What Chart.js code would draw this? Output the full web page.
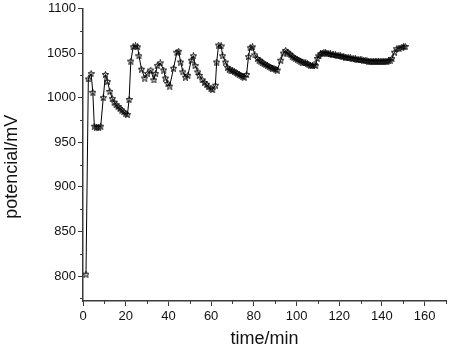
<!DOCTYPE html>
<html>
<head>
<meta charset="utf-8">
<script src="https://cdn.jsdelivr.net/npm/chart.js@4/dist/chart.umd.min.js"></script>
<style>
  html, body { margin: 0; padding: 0; background: #fff; }
  #wrap { width: 450px; height: 350px; position: relative; }
</style>
</head>
<body>
<div id="wrap"><canvas id="c"></canvas></div>
<script>
// ---- data ----
const times = [
  1.4, 2.5, 3.8, 4.6, 5.3, 6.3, 7.3, 8.3, 9.5, 10.5, 11.5, 12.6, 13.7, 14.6, 15.5, 16.4, 17.3, 18.2, 19.1, 20.0,
  20.8, 21.6, 22.4, 23.5, 24.6, 25.6, 26.2, 27.4, 28.9, 30.2, 31.7, 33.2, 34.0, 34.8, 36.2, 37.8, 38.6, 39.8, 40.6, 42.4,
  44.0, 44.8, 45.7, 46.8, 48.0, 49.1, 50.7, 51.7, 52.5, 53.8, 54.5, 55.8, 56.9, 57.9, 58.8, 59.9, 60.7, 62.0, 62.6, 63.5,
  64.7, 65.4, 66.7, 67.7, 68.5, 69.3, 70.1, 70.9, 71.7, 72.4, 73.2, 74.0, 74.8, 75.5, 76.6, 77.5, 78.3, 79.4, 80.5, 81.7,
  82.5, 83.3, 84.0, 84.8, 85.6, 86.4, 87.2, 88.0, 88.7, 89.5, 90.3, 91.0, 92.6, 93.8, 94.9, 95.7, 96.5, 97.3, 98.0, 98.8,
  99.6, 100.4, 101.2, 102.0, 102.7, 103.5, 104.3, 105.1, 105.8, 106.6, 107.4, 108.2, 109.0, 109.7, 110.5, 111.2, 112.0, 112.8, 113.6, 114.3,
  115.1, 115.9, 116.7, 117.4, 118.2, 119.0, 119.8, 120.5, 121.3, 122.1, 122.9, 123.6, 124.4, 125.2, 126.0, 126.8, 127.6, 128.3, 129.1, 129.9,
  130.6, 131.4, 132.2, 133.0, 133.8, 134.5, 135.3, 136.1, 136.9, 137.6, 138.4, 139.2, 140.0, 140.8, 141.5, 142.3, 143.1, 143.9, 144.7, 145.9,
  147.0, 148.0, 149.3, 150.1, 150.9
];
const potentials = [
  802, 1021, 1027, 1006, 968, 967, 967, 968, 1000, 1026, 1018, 1007, 999, 995, 992, 990, 988, 986, 984, 982,
  981, 998, 1041, 1057, 1058, 1057, 1047, 1032, 1022, 1027, 1031, 1020, 1027, 1036, 1039, 1031, 1022, 1016, 1013, 1033,
  1051, 1052, 1040, 1029, 1023, 1025, 1042, 1047, 1036, 1029, 1025, 1020, 1017, 1015, 1012, 1010, 1009, 1014, 1040, 1059,
  1058, 1047, 1040, 1034, 1032, 1031, 1030, 1029, 1028, 1027, 1026, 1025, 1024, 1023, 1026, 1046, 1056, 1057, 1048, 1044,
  1042, 1041, 1039, 1038, 1037, 1036, 1035, 1034, 1033, 1033, 1032, 1031, 1042, 1050, 1053, 1051, 1049, 1048, 1046, 1045,
  1044, 1043, 1042, 1041, 1040, 1039, 1039, 1038, 1037, 1036, 1036, 1037, 1036, 1044, 1047, 1049, 1050, 1051, 1050.5, 1050,
  1049, 1049, 1048.5, 1048, 1048, 1047.5, 1047, 1047, 1046.5, 1046, 1045.5, 1045, 1045, 1044.5, 1044, 1044, 1043.5, 1043, 1043, 1042.5,
  1042.5, 1042, 1042, 1041.5, 1041, 1041, 1041, 1041, 1041, 1041, 1041, 1041, 1041, 1041, 1041, 1041, 1041.5, 1042, 1044, 1051,
  1055, 1055.5, 1056.7, 1057, 1057.4
];
const xMajorTicks = [0, 20, 40, 60, 80, 100, 120, 140, 160];
const xMinorTicks = [10, 30, 50, 70, 90, 110, 130, 150, 170];
const yMajorTicks = [800, 850, 900, 950, 1000, 1050, 1100];
const yMinorTicks = [775, 825, 875, 925, 975, 1025, 1075];
const xTitle = 'time/min';
const yTitle = 'potencial/mV';

// small open five-pointed star marker
function starMarker() {
  const c = document.createElement('canvas');
  c.width = 7; c.height = 7;
  const g = c.getContext('2d');
  g.beginPath();
  for (let i = 0; i < 10; i++) {
    const r = i % 2 ? 1.4 : 3.3;
    const a = -Math.PI / 2 + i * Math.PI / 5;
    const x = 3.5 + r * Math.cos(a), y = 3.8 + r * Math.sin(a);
    if (i) g.lineTo(x, y); else g.moveTo(x, y);
  }
  g.closePath();
  g.strokeStyle = '#000';
  g.lineWidth = 1;
  g.stroke();
  return c;
}

const axisColor = '#3a3a3a';
const fontFamily = '"Liberation Sans", Arial, sans-serif';
const tickFont = { family: fontFamily, size: 13, lineHeight: 1 };
const titleFont = { family: fontFamily, size: 18, lineHeight: 1.2 };

const minorTicks = {
  id: 'minorTicks',
  afterDraw(chart) {
    const ctx = chart.ctx, xs = chart.scales.x, ys = chart.scales.y;
    ctx.save();
    ctx.strokeStyle = axisColor;
    ctx.lineWidth = 1;
    ctx.beginPath();
    xMinorTicks.forEach(v => {
      const p = Math.round(xs.getPixelForValue(v)) + 0.5;
      ctx.moveTo(p, xs.top); ctx.lineTo(p, xs.top + 3);
    });
    yMinorTicks.forEach(v => {
      const p = Math.round(ys.getPixelForValue(v)) + 0.5;
      ctx.moveTo(ys.right - 3, p); ctx.lineTo(ys.right, p);
    });
    ctx.stroke();
    // y-axis title, placed slightly below the axis centre as in the reference
    const cy = (ys.top + ys.bottom) / 2 + 12;
    ctx.translate(12, cy);
    ctx.rotate(-Math.PI / 2);
    ctx.fillStyle = '#111';
    ctx.font = '18px ' + fontFamily;
    ctx.textAlign = 'center';
    ctx.textBaseline = 'middle';
    ctx.fillText(yTitle, 0, 0);
    ctx.restore();
  }
};

new Chart(document.getElementById('c'), {
  type: 'scatter',
  data: {
    datasets: [{
      data: times.map((t, i) => ({ x: t, y: potentials[i] })),
      showLine: true,
      borderColor: '#000',
      borderWidth: 1,
      tension: 0,
      pointStyle: starMarker(),
      pointRadius: 3,
      pointHoverRadius: 3
    }]
  },
  options: {
    responsive: true,
    maintainAspectRatio: false,
    animation: false,
    events: [],
    layout: { padding: { top: 6, right: 1, left: 0, bottom: 0 } },
    plugins: { legend: { display: false }, tooltip: { enabled: false } },
    scales: {
      x: {
        type: 'linear',
        min: 0, max: 170,
        afterBuildTicks: s => { s.ticks = xMajorTicks.map(v => ({ value: v })); },
        afterFit: s => { s.height = 49; },
        border: { display: true, color: axisColor, width: 1.5 },
        grid: { drawOnChartArea: false, drawTicks: true, tickLength: 5, color: axisColor, lineWidth: 1 },
        ticks: { color: '#111', font: tickFont, padding: 4, maxRotation: 0, callback: v => String(v) },
        title: { display: true, text: xTitle, color: '#111', font: titleFont, padding: { top: 0, bottom: 0 } }
      },
      y: {
        type: 'linear',
        min: 772, max: 1100,
        afterBuildTicks: s => { s.ticks = yMajorTicks.map(v => ({ value: v })); },
        afterFit: s => { s.width = 83; },
        border: { display: true, color: axisColor, width: 1.5 },
        grid: { drawOnChartArea: false, drawTicks: true, tickLength: 5, color: axisColor, lineWidth: 1 },
        ticks: { color: '#111', font: tickFont, padding: 2, callback: v => String(v) },
        title: { display: false, text: yTitle }
      }
    }
  },
  plugins: [minorTicks]
});
</script>
</body>
</html>
